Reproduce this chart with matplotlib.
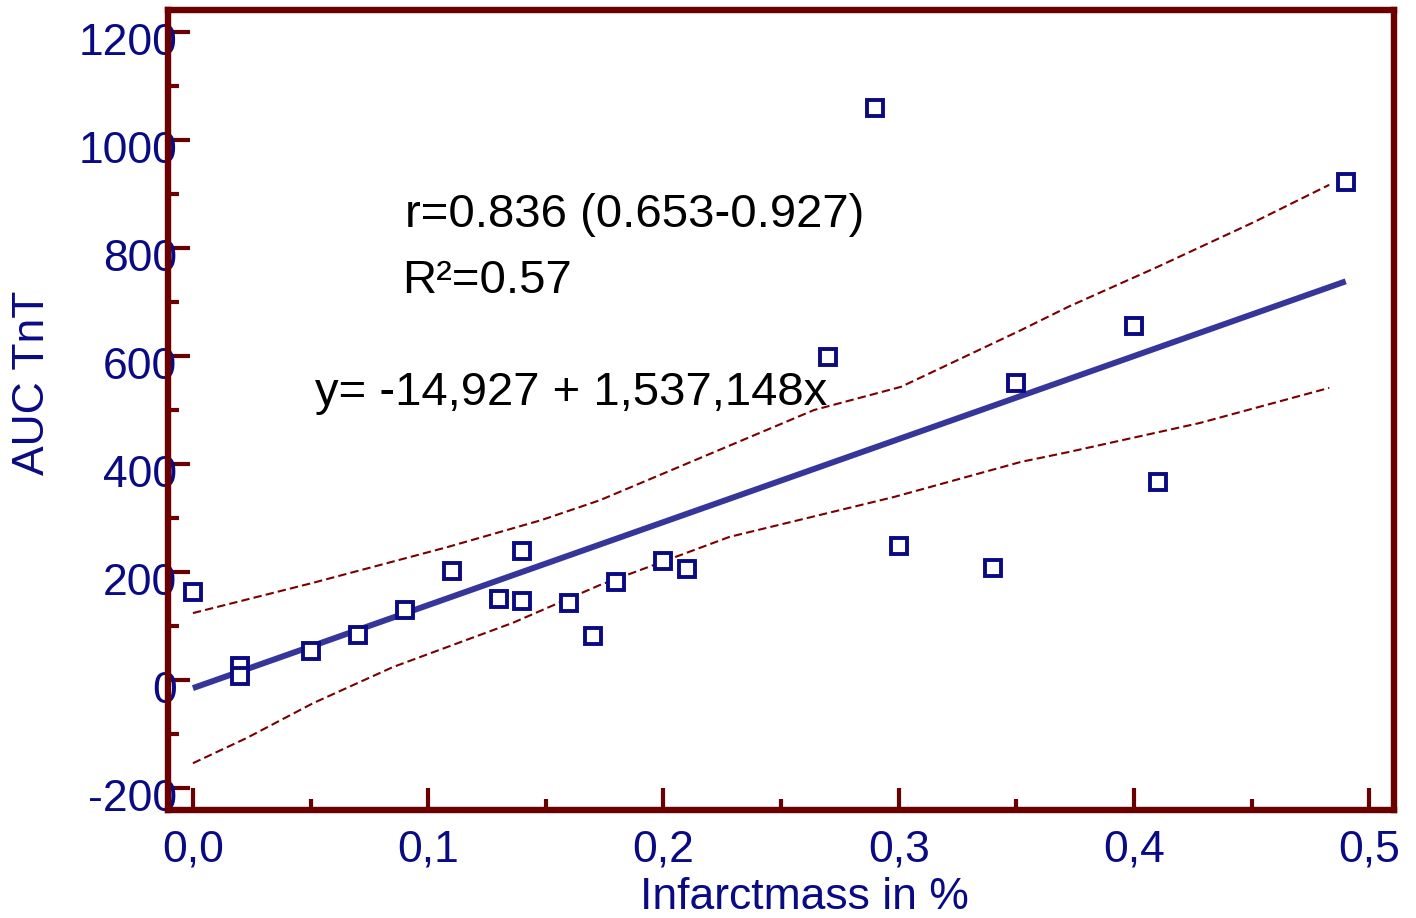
import numpy as np
import matplotlib
matplotlib.use("Agg")
import matplotlib.pyplot as plt
from matplotlib.ticker import FixedLocator, MultipleLocator
from matplotlib.transforms import ScaledTranslation

plt.rcParams['font.family'] = ['Liberation Sans', 'DejaVu Sans']
plt.rcParams['axes.unicode_minus'] = False

# Messwerte: Infarktmasse (Anteil) gegen AUC Troponin T
infarct = [0.00, 0.02, 0.02, 0.05, 0.07, 0.09, 0.11, 0.13, 0.14, 0.14, 0.16, 0.17,
           0.18, 0.20, 0.21, 0.27, 0.29, 0.30, 0.34, 0.35, 0.40, 0.41, 0.49]
auc_tnt = [163, 26, 7, 54, 83, 130, 202, 150, 239, 146, 143, 81,
           181, 220, 206, 598, 1059, 248, 207, 550, 656, 367, 922]

# Regressionsgerade laut Beschriftung
intercept = -14.927
slope = 1537.148

# 95%-Konfidenzband (obere / untere Grenze)
upper_x = [0.0, 0.051, 0.108, 0.148, 0.173, 0.264, 0.301, 0.352, 0.372, 0.410, 0.451, 0.483]
upper_y = [124, 180, 246, 296, 333, 500, 543, 648, 691, 765, 848, 917]
lower_x = [0.0, 0.023, 0.051, 0.085, 0.136, 0.173, 0.228, 0.298, 0.352, 0.372, 0.428, 0.483]
lower_y = [-154, -107, -43, 24, 106, 176, 265, 339, 404, 422, 476, 541]

x_ticks = [0.0, 0.1, 0.2, 0.3, 0.4, 0.5]
x_tick_labels = ['0,0', '0,1', '0,2', '0,3', '0,4', '0,5']
y_ticks = [-200, 0, 200, 400, 600, 800, 1000, 1200]

frame_col = '#6a0000'
navy = '#0a0a84'

fig = plt.figure(figsize=(14.16, 9.18), dpi=100)
ax = fig.add_axes([0.1183, 0.1176, 0.8663, 0.8715])

# Konfidenzband
ax.plot(upper_x, upper_y, color='#7a0000', lw=1.5, dashes=(4, 2))
ax.plot(lower_x, lower_y, color='#7a0000', lw=1.5, dashes=(4, 2))

# Regressionsgerade
x_line = np.array([min(infarct), max(infarct)])
ax.plot(x_line, intercept + slope * x_line, color='#36369a', lw=4.3, solid_capstyle='butt')

# Einzelwerte
ax.plot(infarct, auc_tnt, ls='none', marker='s', ms=11, mfc='white',
        mec=navy, mew=2.8)

ax.set_xlim(-0.0108, 0.5106)
ax.set_ylim(-240.7, 1240.7)

ax.xaxis.set_major_locator(FixedLocator(x_ticks))
ax.set_xticklabels(x_tick_labels)
ax.xaxis.set_minor_locator(MultipleLocator(0.05))
ax.yaxis.set_major_locator(FixedLocator(y_ticks))
ax.yaxis.set_minor_locator(MultipleLocator(100))

ax.tick_params(which='both', direction='in', color=frame_col, width=3,
               top=False, right=False, labelcolor=navy, labelsize=32)
ax.tick_params(which='major', length=16)
ax.tick_params(which='minor', length=8)
ax.tick_params(axis='x', which='major', pad=14)
ax.tick_params(axis='y', which='major', pad=-7)

for sp in ax.spines.values():
    sp.set_color(frame_col)
    sp.set_linewidth(4.6)

# Statistik-Text
ax.text(0.090, 839, 'r=0.836 (0.653-0.927)', fontsize=34, color='black', va='baseline')
ax.text(0.089, 717, 'R²=0.57', fontsize=34, color='black', va='baseline')
ax.text(0.052, 509, 'y= -14,927 + 1,537,148x', fontsize=34, color='black', va='baseline')

fig.text(804 / 1416, 0.0, 'Infarctmass in %', fontsize=32, color=navy,
         ha='center', va='bottom')
fig.text(33 / 1416, 1 - 383 / 918, 'AUC TnT', fontsize=32, color=navy,
         ha='center', va='center', rotation=90)

# y-Beschriftungen etwas unterhalb der Striche
fig.canvas.draw()
shift = ScaledTranslation(0, -5 / 72, fig.dpi_scale_trans)
for tick in ax.yaxis.get_major_ticks():
    tick.label1.set_transform(tick.label1.get_transform() + shift)

fig.savefig('out.png', dpi=100)
